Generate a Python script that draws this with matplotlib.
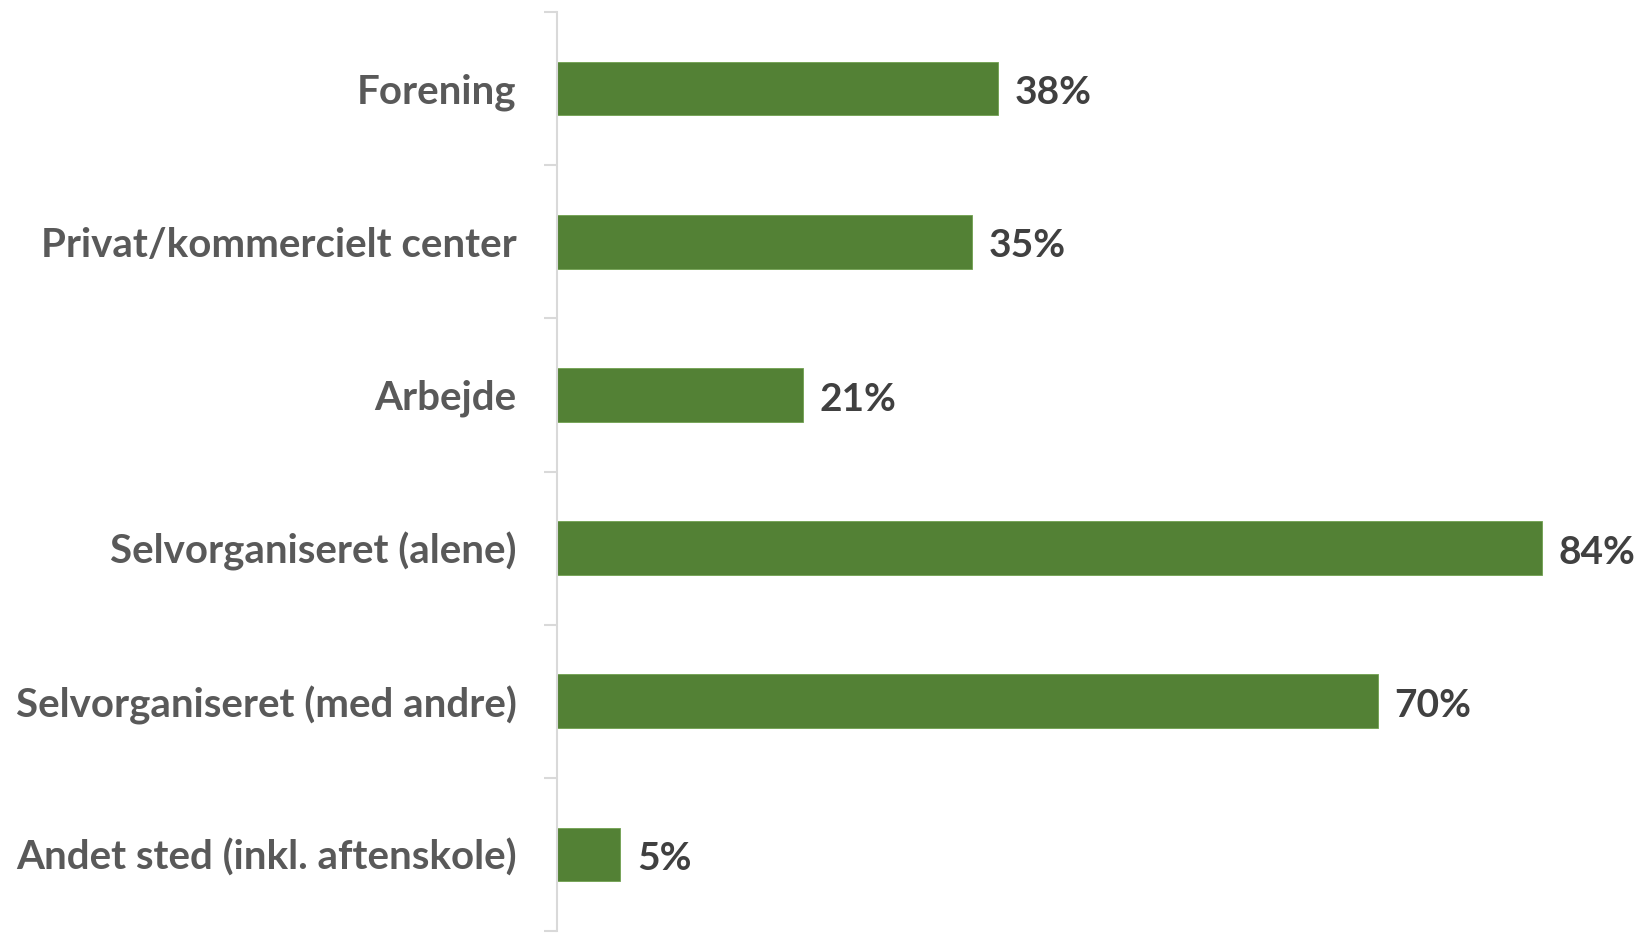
import matplotlib
matplotlib.use("Agg")
import matplotlib.pyplot as plt
import numpy as np

categories = ["Forening", "Privat/kommercielt center", "Arbejde",
              "Selvorganiseret (alene)", "Selvorganiseret (med andre)",
              "Andet sted (inkl. aftenskole)"]
values = [37.6, 35.4, 21.0, 84.0, 70.0, 5.4]
value_labels = ["38%", "35%", "21%", "84%", "70%", "5%"]

W, H, DPI = 1639, 933, 100
fig = plt.figure(figsize=(W / DPI, H / DPI), dpi=DPI)
left, right = 557, 1639
top, bottom = 12, 931
ax = fig.add_axes([left / W, (H - bottom) / H, (right - left) / W, (bottom - top) / H])

y = np.arange(len(categories))
ax.barh(y, values, height=0.35, color="#538135", edgecolor="#70a050", linewidth=0.6)
ax.set_ylim(len(categories) - 0.5, -0.5)
ax.set_xlim(0, 92.3)

for yi, v, lab in zip(y, values, value_labels):
    ax.annotate(lab, (v, yi), xytext=(12, -3), textcoords="offset points",
                ha="left", va="center", fontsize=28, fontweight="bold",
                color="#404040", family="Lato")

for s in ["top", "right", "bottom"]:
    ax.spines[s].set_visible(False)
ax.spines["left"].set_color("#d9d9d9")
ax.spines["left"].set_linewidth(1.5)
ax.set_xticks([])

ax.set_yticks(y)
ax.set_yticklabels(categories, fontsize=29, fontweight="bold", color="#595959", family="Lato")
ax.tick_params(axis="y", which="major", length=0, pad=29)
ax.set_yticks(np.arange(-0.5, len(categories) + 0.5, 1), minor=True)
ax.tick_params(axis="y", which="minor", length=9.5, width=1.5, color="#d9d9d9")

fig.savefig("out.png", dpi=DPI, facecolor="white")
